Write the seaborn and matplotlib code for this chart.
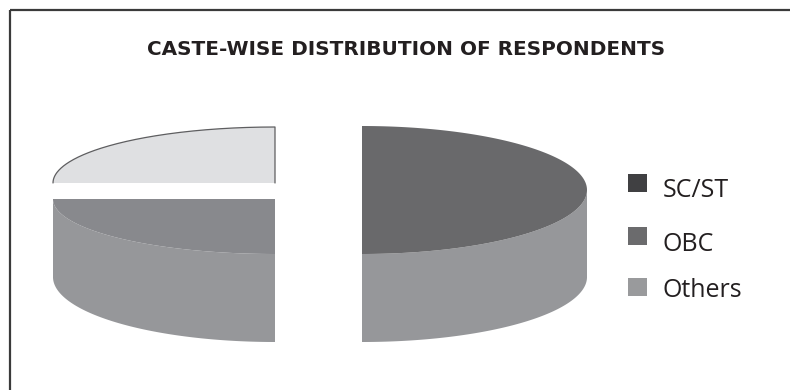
import numpy as np
import matplotlib
matplotlib.use("Agg")
import matplotlib.pyplot as plt
from matplotlib.patches import Polygon, Rectangle
import seaborn as sns

# ---- data ----
categories = ["SC/ST", "OBC", "Others"]
shares = [25, 50, 25]
legend_colors = ["#404042", "#6b6b6d", "#999a9c"]
top_colors = ["#88898d", "#69696b", "#dfe0e2"]
side_color = "#96979a"
title = "CASTE-WISE DISTRIBUTION OF RESPONDENTS"

sns.set_theme(style="white")
plt.rcParams["font.family"] = ["Open Sans", "DejaVu Sans"]

fig = plt.figure(figsize=(7.9, 3.9), dpi=100)
ax = fig.add_axes([0, 0, 1, 1])
ax.set_xlim(0, 790)
ax.set_ylim(390, 0)
ax.axis("off")

# frame (cropped box: top and left edges)
ax.plot([10, 790], [10, 10], color="#3a3a3a", lw=1.6, solid_capstyle="butt")
ax.plot([10, 10], [10, 390], color="#3a3a3a", lw=1.6, solid_capstyle="butt")

ax.text(406, 55, title, ha="center", va="baseline", fontsize=14.4,
        fontweight="bold", color="#231f20", family=["DejaVu Sans"])

# pie geometry (style): clockwise from 12 o'clock in order OBC, SC/ST, Others
pie_order = [1, 0, 2]
geom = {
    1: dict(cx=362, cy=190, a=225, b=64, cyb=277, bb=65),
    0: dict(cx=275, cy=199, a=222, b=55, cyb=277, bb=65),
    2: dict(cx=275, cy=183, a=222, b=56, cyb=265, bb=65),
}

total = float(sum(shares))
start = 90.0
wedges = []
for idx in pie_order:
    sweep = 360.0 * shares[idx] / total
    t1, t2 = start - sweep, start
    wedges.append((idx, t1, t2))
    start = t1

def arc(g, t1, t2, cy, b, n=200):
    th = np.radians(np.linspace(t1, t2, n))
    return np.column_stack([g["cx"] + g["a"] * np.cos(th), cy - b * np.sin(th)])

# side walls (front visible part: 180..360 deg)
for idx, t1, t2 in wedges:
    g = geom[idx]
    lo, hi = t1 % 360, (t1 % 360) + (t2 - t1)
    s1, s2 = max(lo, 180), min(hi, 360)
    if s2 > s1:
        top = arc(g, s1, s2, g["cy"], g["b"])
        bot = arc(g, s1, s2, g["cyb"], g["bb"])[::-1]
        ax.add_patch(Polygon(np.vstack([top, bot]), closed=True,
                             facecolor=side_color, edgecolor="none"))

# top faces
for idx, t1, t2 in wedges:
    g = geom[idx]
    pts = np.vstack([[g["cx"], g["cy"]], arc(g, t1, t2, g["cy"], g["b"])])
    ax.add_patch(Polygon(pts, closed=True, facecolor=top_colors[idx],
                         edgecolor="none"))
    if idx == 2:
        edge = np.vstack([[[g["cx"], g["cy"]]], arc(g, t1, t2, g["cy"], g["b"])])
        ax.plot(edge[:, 0], edge[:, 1], color="#5e5e60", lw=0.9)

# legend
sq_y = [174, 227, 278]
base_y = [197, 251, 297]
for i, cat in enumerate(categories):
    ax.add_patch(Rectangle((628, sq_y[i]), 19, 18, facecolor=legend_colors[i],
                           edgecolor="none"))
    ax.text(663, base_y[i], cat, ha="left", va="baseline", fontsize=18,
            color="#231f20")

fig.savefig("out.png", dpi=100)
